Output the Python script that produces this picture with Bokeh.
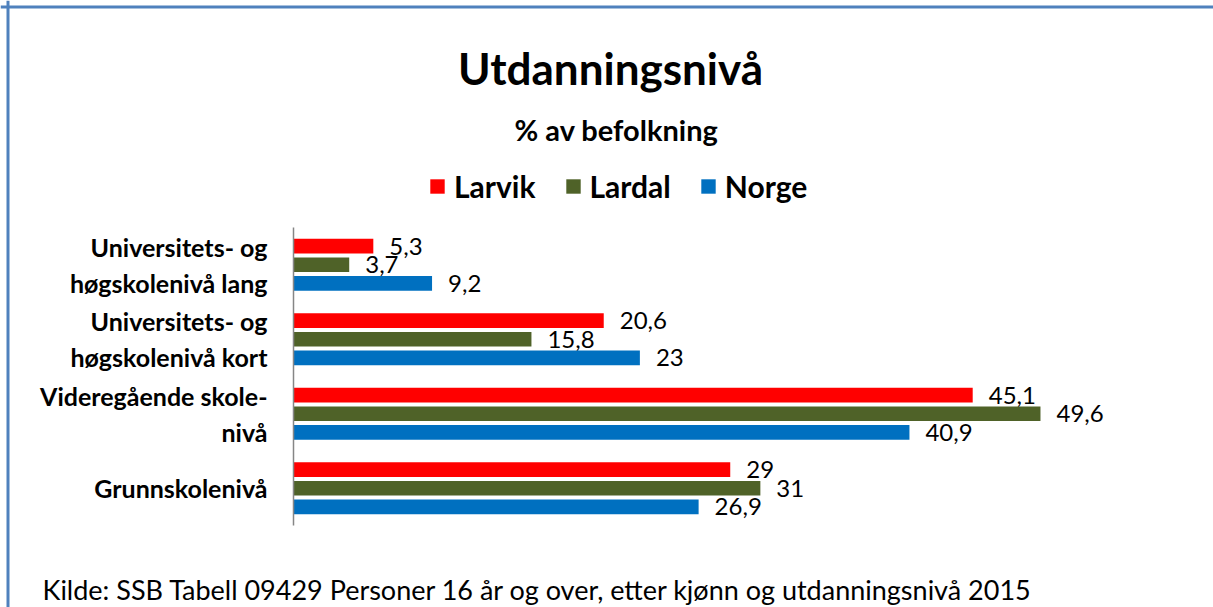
from bokeh.plotting import figure
from bokeh.models import (Range1d, Label, Legend, LegendItem, Span, ColumnDataSource,
                          LinearAxis, FixedTicker)
from bokeh.transform import dodge
from bokeh.core.properties import value
from bokeh.embed import file_html
from bokeh.resources import INLINE

# bottom to top
categories = [
    "Grunnskolenivå",
    "Videregående skole-\nnivå",
    "Universitets- og\nhøgskolenivå kort",
    "Universitets- og\nhøgskolenivå lang",
]
larvik = [29.0, 45.1, 20.6, 5.3]
lardal = [31.0, 49.6, 15.8, 3.7]
norge = [26.9, 40.9, 23.0, 9.2]
larvik_lbl = ["29", "45,1", "20,6", "5,3"]
lardal_lbl = ["31", "49,6", "15,8", "3,7"]
norge_lbl = ["26,9", "40,9", "23", "9,2"]
series = ["Larvik", "Lardal", "Norge"]
colors = ["#FF0000", "#4F6228", "#0070C0"]

FONT = "Lato"
W, H = 1213, 607

# layout (pixels)
AX_X = 293          # x pixel of value 0
PX_PER_UNIT = 15.06
AX_TOP, AX_BOT = 227, 525
n = len(categories)
row_px = (AX_BOT - AX_TOP) / n

pos = list(range(n))
src = ColumnDataSource(dict(pos=pos, Larvik=larvik, Lardal=lardal, Norge=norge,
                            Larvik_l=larvik_lbl, Lardal_l=lardal_lbl, Norge_l=norge_lbl))

x_range = Range1d(-AX_X / PX_PER_UNIT, (W - AX_X) / PX_PER_UNIT)
y_top = n - 0.5 + AX_TOP / row_px
y_range = Range1d(-0.5 - (H - AX_BOT) / row_px, y_top)

p = figure(width=W, height=H, output_backend="svg", toolbar_location=None,
           x_range=x_range, y_range=y_range, x_axis_type=None, y_axis_type=None)
p.min_border = 0
p.min_border_left = 0
p.min_border_right = 0
p.min_border_top = 0
p.min_border_bottom = 0
p.outline_line_color = None
p.grid.visible = False
p.background_fill_color = "white"
p.border_fill_color = "white"

ya = LinearAxis(fixed_location=0, ticker=FixedTicker(ticks=pos),
                major_label_overrides={i: c for i, c in zip(pos, categories)},
                bounds=(-0.5, n - 0.5))
ya.axis_line_color = "#868686"
ya.axis_line_width = 1.5
ya.major_tick_line_color = None
ya.minor_tick_line_color = None
ya.major_label_text_font = FONT
ya.major_label_text_font_style = "bold"
ya.major_label_text_font_size = "25px"
ya.major_label_text_color = "black"
ya.major_label_standoff = 20
p.add_layout(ya, "left")

offsets = [0.25, 0.0, -0.25]
renderers = []
for s, c, off in zip(series, colors, offsets):
    r = p.hbar(y=dodge("pos", off), right=s, left=0, height=0.195,
               source=src, fill_color=c, line_color=None)
    renderers.append(r)
    p.text(x=s, y=dodge("pos", off), text=s + "_l", source=src,
           x_offset=16, text_baseline="middle", text_align="left",
           text_font=value(FONT), text_font_size="24px", text_color="black")

legend = Legend(items=[LegendItem(label=s, renderers=[r]) for s, r in zip(series, renderers)],
                orientation="horizontal", location=(428, H - 204),
                glyph_width=18, glyph_height=18, label_standoff=8, spacing=28,
                padding=0, margin=0, border_line_color=None, background_fill_alpha=0,
                label_text_font=FONT, label_text_font_style="bold",
                label_text_font_size="30px", label_text_color="black")
p.add_layout(legend, "center")

p.add_layout(Label(x=610, y=67, x_units="canvas", y_units="canvas", text="Utdanningsnivå",
                   text_align="center", text_baseline="alphabetic", text_font=FONT,
                   text_font_style="bold", text_font_size="44px", text_color="black"))
p.add_layout(Label(x=616, y=129, x_units="canvas", y_units="canvas", text="% av befolkning",
                   text_align="center", text_baseline="alphabetic", text_font=FONT,
                   text_font_style="bold", text_font_size="29px", text_color="black"))
p.add_layout(Label(x=42, y=589, x_units="canvas", y_units="canvas",
                   text="Kilde: SSB Tabell 09429 Personer 16 år og over, etter kjønn og utdanningsnivå 2015",
                   text_align="left", text_baseline="alphabetic", text_font=FONT,
                   text_font_size="27px", text_color="black"))

# chart-area border (top and left edges; the rest lies beyond the window)
border = "#4F81BD"
p.add_layout(Span(location=(7.5 - AX_X) / PX_PER_UNIT, dimension="height",
                  line_color=border, line_width=3))
p.add_layout(Span(location=y_top - 6.5 / row_px, dimension="width",
                  line_color=border, line_width=3))

open("out.html", "w").write(file_html(p, INLINE))
